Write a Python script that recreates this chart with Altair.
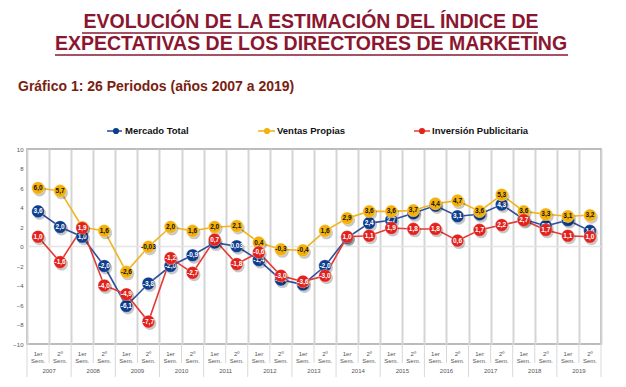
import altair as alt
import pandas as pd

# ---------------- data ----------------
titulo = ["EVOLUCIÓN DE LA ESTIMACIÓN DEL ÍNDICE DE",
          "EXPECTATIVAS DE LOS DIRECTORES DE MARKETING"]
subtitulo = "Gráfico 1: 26 Periodos (años 2007 a 2019)"

anios = ["2007", "2008", "2009", "2010", "2011", "2012", "2013",
         "2014", "2015", "2016", "2017", "2018", "2019"]
semestres = ["1er", "2º"]

series = ["Mercado Total", "Ventas Propias", "Inversión Publicitaria"]
mercado_total = [3.6, 2.0, 1.0, -2.0, -6.1, -3.8, -2.0, -0.9, 0.4, 0.03, -1.4, -3.4, -3.9,
                 -2.0, 0.9, 2.4, 2.7, 3.4, 4.2, 3.1, 3.3, 4.3, 2.8, 2.1, 2.7, 1.6]
ventas_propias = [6.0, 5.7, 2.0, 1.6, -2.6, -0.03, 2.0, 1.6, 2.0, 2.1, 0.4, -0.3, -0.4,
                  1.6, 2.9, 3.6, 3.6, 3.7, 4.4, 4.7, 3.6, 5.3, 3.6, 3.3, 3.1, 3.2]
inversion_publicitaria = [1.0, -1.6, 1.9, -4.0, -4.9, -7.7, -1.2, -2.7, 0.7, -1.8, -0.6, -3.0, -3.6,
                          -3.0, 1.0, 1.1, 1.9, 1.8, 1.8, 0.6, 1.7, 2.2, 2.7, 1.7, 1.1, 1.0]
valores = [mercado_total, ventas_propias, inversion_publicitaria]

# ---------------- styling ----------------
FONT = "Liberation Sans"
W, H = 574, 195
col_punto = ["#0f3d8e", "#f4b10b", "#e2231d"]
col_linea = ["#2f4f9a", "#f2b41c", "#e33a33"]
col_leyenda = ["#5a76b8", "#f6c24a", "#ee6a63"]
col_texto = ["white", "#111111", "white"]


def fmt(v):
    s = f"{v:.1f}" if round(v, 1) == v else f"{v:.2f}"
    return s.replace(".", ",")


rows = []
for s, vals in zip(series, valores):
    for k, v in enumerate(vals):
        rows.append({"serie": s, "i": k + 0.5, "valor": v, "etiqueta": fmt(v)})
df = pd.DataFrame(rows)

per_rows = []
for k in range(len(anios) * 2):
    per_rows.append({"i": k + 0.5, "sem": semestres[k % 2], "anio": anios[k // 2]})
per = pd.DataFrame(per_rows)
anio_df = pd.DataFrame({"i": [2 * k + 1 for k in range(len(anios))], "anio": anios})
bordes = pd.DataFrame({"i": list(range(len(anios) * 2 + 1))})
bordes["anio"] = bordes["i"] % 2 == 0

xs = alt.Scale(domain=[0, 26], nice=False, zero=False)
ys = alt.Scale(domain=[-10, 10], nice=False, zero=False)

x_axis = alt.Axis(values=list(range(27)), grid=True, labels=False, ticks=False,
                  domain=False, title=None, gridColor="#d4d4d4", gridWidth=2)
y_axis = alt.Axis(values=list(range(-10, 11, 2)), grid=False, ticks=False,
                  domain=False, title=None, labelFontSize=6, labelColor="#555555",
                  labelFont=FONT, labelPadding=4)
x_enc = alt.X("i:Q", scale=xs, axis=x_axis)
y_enc = alt.Y("valor:Q", scale=ys, axis=y_axis)

base = alt.Chart(df)

cero = alt.Chart(pd.DataFrame({"valor": [0]})).mark_rule(
    color="#e4e4e4", strokeWidth=1.5).encode(y=y_enc)

layers = [cero]

# lines
for s, cl in zip(series, col_linea):
    layers.append(base.transform_filter(alt.datum.serie == s).mark_line(
        color=cl, strokeWidth=1.6).encode(x=x_enc, y=y_enc))

# points + labels per series
for s, cp, ct in zip(series, col_punto, col_texto):
    sub = base.transform_filter(alt.datum.serie == s)
    layers.append(sub.mark_circle(size=165, color="#000000", opacity=0.22,
                                  xOffset=1.5, yOffset=2).encode(x=x_enc, y=y_enc))
    layers.append(sub.mark_circle(size=160, color=cp, opacity=1,
                                  stroke="#ffffff", strokeWidth=0.5, strokeOpacity=0.6).encode(
        x=x_enc, y=y_enc))
    layers.append(sub.mark_text(font=FONT, fontSize=6.5, fontWeight="bold", color=ct,
                                baseline="middle", align="center").encode(
        x=x_enc, y=y_enc, text="etiqueta:N"))

# separators under the plot
sep = alt.Chart(bordes).mark_rule(color="#d8d8d8", strokeWidth=1).encode(
    x=x_enc, y=alt.value(H), y2=alt.value(H + 19))
sep_anio = alt.Chart(bordes).transform_filter(alt.datum.anio).mark_rule(
    color="#d8d8d8", strokeWidth=1).encode(
    x=x_enc, y=alt.value(H + 19), y2=alt.value(H + 33))
layers += [sep, sep_anio]

lab_kw = dict(font=FONT, fontSize=6, color="#555555", align="center", baseline="middle")
layers.append(alt.Chart(per).mark_text(**lab_kw).encode(
    x=x_enc, y=alt.value(H + 10), text="sem:N"))
layers.append(alt.Chart(per).mark_text(**lab_kw).encode(
    x=x_enc, y=alt.value(H + 17), text=alt.value("Sem.")))
layers.append(alt.Chart(anio_df).mark_text(**lab_kw).encode(
    x=x_enc, y=alt.value(H + 27), text="anio:N"))

# legend
leg_line = [(80, 95), (231, 248), (387, 403)]
leg_dot = [89, 240, 395]
leg_txt = [98, 250, 405]
LY = -18
for s, (a, b), d, t, cl, cp in zip(series, leg_line, leg_dot, leg_txt, col_leyenda, col_punto):
    one = alt.Chart(pd.DataFrame({"serie": [s]}))
    layers.append(one.mark_rule(color=cl, strokeWidth=2).encode(
        x=alt.value(a), x2=alt.value(b), y=alt.value(LY)))
    layers.append(one.mark_circle(size=38, color=cp, opacity=1).encode(
        x=alt.value(d), y=alt.value(LY)))
    layers.append(one.mark_text(font=FONT, fontSize=9.5, fontWeight="bold", color="#111111",
                                align="left", baseline="middle").encode(
        x=alt.value(t), y=alt.value(LY), text="serie:N"))

# titles
TC = "#8a1730"
tit_y = [-127, -105]
ul_y = [-116, -94]
ul_x = [(55, 511), (28, 541)]
for txt, ty, uy, (ua, ub) in zip(titulo, tit_y, ul_y, ul_x):
    one = alt.Chart(pd.DataFrame({"t": [txt]}))
    layers.append(one.mark_text(font=FONT, fontSize=19.5, fontWeight="bold", color=TC,
                                align="center", baseline="middle").encode(
        x=alt.value(284), y=alt.value(ty), text="t:N"))
    layers.append(one.mark_rule(color=TC, strokeWidth=1.6).encode(
        x=alt.value(ua), x2=alt.value(ub), y=alt.value(uy)))

layers.append(alt.Chart(pd.DataFrame({"t": [subtitulo]})).mark_text(
    font=FONT, fontSize=14, fontWeight="bold", color="#7b1e12",
    align="left", baseline="middle").encode(
    x=alt.value(-9), y=alt.value(-62), text="t:N"))

chart = alt.layer(*layers).properties(
    width=W, height=H,
    autosize=alt.AutoSizeParams(type="none"),
    padding={"left": 19, "top": 141, "right": 17, "bottom": 35},
    background="white",
).configure_view(stroke="#a6a6a6", strokeWidth=1.5)

chart.save("out.html", embed_options={"renderer": "svg", "actions": False})
